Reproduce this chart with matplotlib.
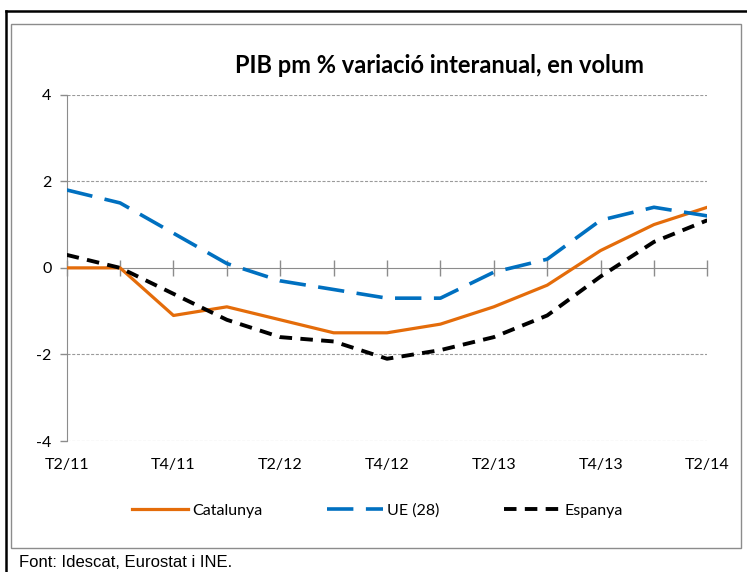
import numpy as np
import matplotlib
matplotlib.use("Agg")
import matplotlib.pyplot as plt
from matplotlib.patches import Rectangle
from matplotlib.lines import Line2D

plt.rcParams['font.family'] = ['Lato', 'DejaVu Sans']
plt.rcParams['lines.scale_dashes'] = False

# trimestres T2/11 .. T2/14
trimestres = ["T2/11", "T3/11", "T4/11", "T1/12", "T2/12", "T3/12", "T4/12",
              "T1/13", "T2/13", "T3/13", "T4/13", "T1/14", "T2/14"]
catalunya = [0.0, 0.0, -1.1, -0.9, -1.2, -1.5, -1.5, -1.3, -0.9, -0.4, 0.4, 1.0, 1.4]
ue28 = [1.8, 1.5, 0.8, 0.1, -0.3, -0.5, -0.7, -0.7, -0.1, 0.2, 1.1, 1.4, 1.2]
espanya = [0.3, 0.0, -0.6, -1.2, -1.6, -1.7, -2.1, -1.9, -1.6, -1.1, -0.2, 0.6, 1.1]

x = np.arange(len(trimestres))

fig = plt.figure(figsize=(7.47, 5.72), dpi=100)
ax = fig.add_axes([0.0893, 0.229, 0.8576, 0.6054])

# grid
for v in [-4, -2, 2, 4]:
    ax.axhline(v, color="#9a9a9a", linestyle=(0, (2.2, 1.2)), linewidth=0.8, zorder=1)

ax.plot(x, catalunya, color="#E46C0A", linewidth=2.3, label="Catalunya", zorder=3)
ax.plot(x, ue28, color="#0070C0", linewidth=2.6, linestyle=(0, (19, 9)), label="UE (28)", zorder=3)
ax.plot(x, espanya, color="black", linewidth=2.8, linestyle=(0, (9, 6)), label="Espanya", zorder=3)

ax.set_xlim(0, len(trimestres) - 1)
ax.set_ylim(-4, 4)
ax.set_yticks([-4, -2, 0, 2, 4])
ax.set_yticklabels(["-4", "-2", "0", "2", "4"])

for s in ["top", "right"]:
    ax.spines[s].set_visible(False)
ax.spines["left"].set_color("#8c8c8c")
ax.spines["bottom"].set_color("#8c8c8c")
ax.spines["bottom"].set_position(("data", 0))
ax.spines["bottom"].set_zorder(2)

ax.set_xticks(x)
ax.tick_params(axis="x", direction="inout", length=12, width=1, color="#8c8c8c",
               labelbottom=False)
ax.tick_params(axis="y", direction="out", length=5, width=1, color="#8c8c8c",
               labelsize=11.5, pad=6)

sec = ax.secondary_xaxis(0.0)
sec.set_xticks(x[::2])
sec.set_xticklabels(trimestres[::2])
sec.tick_params(length=0, labelsize=11.5, pad=12)
sec.spines["bottom"].set_visible(False)

fig.text(0.589, 0.886, "PIB pm % variació interanual, en volum", ha="center", va="center",
         fontsize=17, fontweight="bold")

leg = fig.legend(loc="center", bbox_to_anchor=(0.505, 0.107), ncol=3, frameon=False,
                 fontsize=11.5, handlelength=3.5, columnspacing=4.0, handletextpad=0.3)

fig.text(0.025, 0.017, "Font: Idescat, Eurostat i INE.", family="Liberation Sans",
         fontsize=12, ha="left", va="center")

# marc
fig.patches.append(Rectangle((11 / 747, 1 - 548 / 572), 730 / 747, 524 / 572,
                             transform=fig.transFigure, fill=False,
                             edgecolor="#8c8c8c", linewidth=1))
fig.lines.append(Line2D([6 / 747, 6 / 747], [0, 1 - 11 / 572], transform=fig.transFigure,
                        color="black", linewidth=1.8))
fig.lines.append(Line2D([6 / 747, 1], [1 - 11 / 572, 1 - 11 / 572], transform=fig.transFigure,
                        color="black", linewidth=1.8))

fig.savefig("out.png", dpi=100)
